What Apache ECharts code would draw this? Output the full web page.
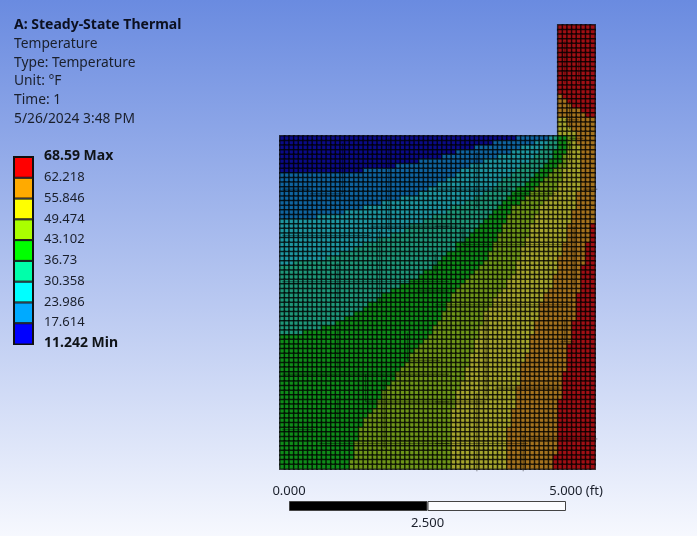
<!DOCTYPE html>
<html>
<head>
<meta charset="utf-8">
<style>html,body{margin:0;padding:0;background:#fff}#c{width:697px;height:536px;filter:blur(0.4px)}</style>
<script src="https://cdn.jsdelivr.net/npm/echarts@6/dist/echarts.min.js"></script>
</head>
<body>
<div id="c"></div>
<script>
const headerLines = ['Temperature', 'Type: Temperature', 'Unit: °F', 'Time: 1', '5/26/2024 3:48 PM'];
const headerTitle = 'A: Steady-State Thermal';
const tempLevels = [11.242, 17.614, 23.986, 30.358, 36.73, 43.102, 49.474, 55.846, 62.218, 68.59];
const levelLabels = ['11.242 Min', '17.614', '23.986', '30.358', '36.73', '43.102', '49.474', '55.846', '62.218', '68.59 Max'];
const bandColors = ['#0000ff', '#00aaff', '#00ffff', '#00ffaa', '#00ff00', '#aaff00', '#ffff00', '#ffaa00', '#ff0000'];
const meshCellColors = ['#0a0a88', '#0f64a0', '#1e96a0', '#1e9678', '#0f8c19', '#6e9619', '#a5a52d', '#a5731e', '#a00f14'];
const scaleTicks = [0, 2.5, 5];
const scaleLabels = ['0.000', '2.500', '5.000 (ft)'];
const upperFirstColumn = 60;
const upperRowCount = 24;
const columnCount = 68;
// For each mesh row, top to bottom: the column at which each of bands 1..8 begins.
const bandStartRows = [
[60,60,60,60,60,60,60,60],[60,60,60,60,60,60,60,60],[60,60,60,60,60,60,60,60],[60,60,60,60,60,60,60,60],
[60,60,60,60,60,60,60,60],[60,60,60,60,60,60,60,60],[60,60,60,60,60,60,60,60],[60,60,60,60,60,60,60,60],
[60,60,60,60,60,60,60,60],[60,60,60,60,60,60,60,60],[60,60,60,60,60,60,60,60],[60,60,60,60,60,60,60,60],
[60,60,60,60,60,60,60,60],[60,60,60,60,60,60,60,60],[60,60,60,60,60,60,60,60],[60,60,60,60,60,60,60,61],
[60,60,60,60,60,60,60,62],[60,60,60,60,60,60,60,63],[60,60,60,60,60,60,60,65],[60,60,60,60,60,60,60,66],
[60,60,60,60,60,60,62,68],[60,60,60,60,60,60,62,68],[60,60,60,60,60,60,63,68],[60,60,60,60,60,60,64,68],
[51,58,59,60,62,64,64,68],[46,55,58,60,62,63,64,68],[42,52,57,60,62,63,65,68],[38,50,56,59,62,62,65,68],
[35,47,55,59,61,62,65,68],[30,44,54,58,61,62,65,68],[25,41,52,57,60,62,65,68],[18,39,51,56,59,61,65,68],
[0,38,50,55,58,61,65,68],[0,36,48,54,57,61,65,68],[0,34,47,53,56,60,65,68],[0,32,46,51,55,60,65,68],
[0,30,44,50,54,59,64,68],[0,26,42,49,53,58,64,68],[0,22,40,48,52,57,64,68],[0,18,37,47,50,56,64,68],
[0,14,36,46,50,56,63,68],[0,8,33,45,49,55,63,68],[0,0,31,44,49,55,63,68],[0,0,28,43,48,54,62,67],
[0,0,27,42,48,54,62,67],[0,0,24,41,47,54,62,67],[0,0,21,40,47,53,62,67],[0,0,18,38,46,53,61,66],
[0,0,16,38,46,52,61,66],[0,0,13,36,45,52,61,66],[0,0,10,35,45,52,60,66],[0,0,3,34,44,51,60,66],
[0,0,0,33,43,51,60,65],[0,0,0,31,42,51,60,65],[0,0,0,30,41,50,59,65],[0,0,0,28,40,49,59,65],
[0,0,0,26,39,49,59,65],[0,0,0,24,38,48,58,65],[0,0,0,22,37,47,57,64],[0,0,0,21,37,46,57,64],
[0,0,0,19,36,46,56,64],[0,0,0,18,36,45,56,64],[0,0,0,16,35,44,56,64],[0,0,0,14,35,44,56,64],
[0,0,0,12,34,44,55,63],[0,0,0,9,33,43,55,63],[0,0,0,5,33,43,55,63],[0,0,0,0,32,43,54,63],
[0,0,0,0,31,42,54,63],[0,0,0,0,30,42,54,62],[0,0,0,0,29,42,54,62],[0,0,0,0,28,41,53,62],
[0,0,0,0,28,41,53,62],[0,0,0,0,27,41,52,62],[0,0,0,0,26,40,52,62],[0,0,0,0,25,40,52,61],
[0,0,0,0,25,40,52,61],[0,0,0,0,24,39,52,61],[0,0,0,0,23,39,51,61],[0,0,0,0,22,38,51,61],
[0,0,0,0,22,38,51,61],[0,0,0,0,21,38,51,60],[0,0,0,0,21,38,51,60],[0,0,0,0,20,37,50,60],
[0,0,0,0,19,37,50,60],[0,0,0,0,18,37,50,60],[0,0,0,0,18,37,50,60],[0,0,0,0,17,37,49,60],
[0,0,0,0,17,37,49,60],[0,0,0,0,17,37,49,60],[0,0,0,0,16,37,49,60],[0,0,0,0,16,37,49,60],
[0,0,0,0,16,37,49,60],[0,0,0,0,16,37,49,59],[0,0,0,0,15,37,49,59],[0,0,0,0,15,37,49,59]
];
// Darker mesh seams, as [startColumnEdge, startRowEdge, endColumnEdge, endRowEdge].
const meshSeams = [
[0,35,6,35],[6,36,13,36],[13,25,13,36],[23,24,23,44],[19,43,36,43],[0,45,19,45],[21,44,21,60],[33,49,33,53],
[0,55,36,55],[29,57,36,57],[12,51,12,59],[42,27,42,39],[33,35,49,35],[50,36,59,36],[39,47,62,47],[33,43,38,43],
[39,43,39,47],[63,43,63,56],[65,35,68,35],[0,75,36,75],[18,75,18,81],[18,81,36,81],[22,76,22,91],[12,80,12,85],
[0,87,7,87],[8,90,36,90],[27,66,27,72],[27,72,34,72],[12,65,12,74],[44,62,44,80],[33,81,44,81],[46,78,60,78],
[33,90,53,90],[53,89,68,89],[52,88,52,96],[42,79,42,96],[60,68,63,68],[61,63,61,68],[33,60,62,60],
[61,3,61,12],[64,7,64,12],[62,16,62,22],[61,20,64,20],[62,25,62,29],[62,24,65,24]
];

const FONT = '"Noto Sans", "Open Sans", sans-serif';
const TEXT = '#1a1f2b';

const cells = [];
bandStartRows.forEach((starts, r) => {
  const first = r < upperRowCount ? upperFirstColumn : 0;
  for (let c = first; c < columnCount; c++) {
    let band = 0;
    starts.forEach(s => { if (s <= c) band++; });
    cells.push([c, r, (tempLevels[band] + tempLevels[band + 1]) / 2]);
  }
});

const colIdx = Array.from({length: columnCount}, (_, i) => i);
const rowIdx = bandStartRows.map((_, i) => i);

const legendSeries = bandColors.map((col, i) => ({
  type: 'bar', stack: 'legend', xAxisIndex: 1, yAxisIndex: 1, barWidth: '100%',
  silent: true,
  data: [i === 0 ? tempLevels[1] : tempLevels[i + 1] - tempLevels[i]],
  itemStyle: {color: col, borderColor: '#101010', borderWidth: 1}
}));

const chart = echarts.init(document.getElementById('c'), null, {renderer: 'canvas'});
chart.setOption({
  animation: false,
  backgroundColor: {type: 'linear', x: 0, y: 0, x2: 0, y2: 1, colorStops: [
    {offset: 0, color: '#6a8be0'}, {offset: 1, color: '#f6f8fe'}]},
  grid: [
    {left: 280, top: 25, width: 315, height: 444},
    {left: 14, top: 157, width: 19, height: 187, show: true, backgroundColor: 'transparent', borderColor: '#101010', borderWidth: 2},
    {left: 289, top: 501, width: 277, height: 10, show: false}
  ],
  xAxis: [
    {type: 'category', gridIndex: 0, data: colIdx, show: false},
    {type: 'category', gridIndex: 1, data: ['band'], show: false},
    {type: 'value', gridIndex: 2, min: 0, max: 5, position: 'top',
     axisLine: {show: false}, axisTick: {show: false}, splitLine: {show: false},
     axisLabel: {customValues: [scaleTicks[0], scaleTicks[2]], margin: 3, color: TEXT, fontFamily: FONT, fontSize: 13,
       formatter: v => v === 0 ? scaleLabels[0] : '{e|' + scaleLabels[2] + '}',
       rich: {e: {padding: [0, 0, 0, 20], color: TEXT, fontFamily: FONT, fontSize: 13}}}},
    {type: 'value', gridIndex: 2, min: 0, max: 5, position: 'bottom',
     axisLine: {show: false}, axisTick: {show: false}, splitLine: {show: false},
     axisLabel: {customValues: [scaleTicks[1]], margin: 6, color: TEXT, fontFamily: FONT, fontSize: 13,
       formatter: () => scaleLabels[1]}}
  ],
  yAxis: [
    {type: 'category', gridIndex: 0, data: rowIdx, inverse: true, show: false},
    {type: 'value', gridIndex: 1, min: tempLevels[0], max: tempLevels[9], position: 'right',
     axisLine: {show: false}, axisTick: {show: false}, splitLine: {show: false},
     axisLabel: {customValues: tempLevels, margin: 11, color: TEXT, fontFamily: FONT, fontSize: 13, padding: [0, 0, 1, 0],
       formatter: v => {
         const i = tempLevels.indexOf(v);
         return (i === 0 || i === 9) ? '{b|' + levelLabels[i] + '}' : levelLabels[i];
       },
       rich: {b: {fontWeight: 'bold', fontFamily: FONT, fontSize: 14, color: '#101418'}}}},
    {type: 'category', gridIndex: 2, data: ['scale'], show: false}
  ],
  visualMap: {
    show: false, type: 'piecewise', seriesIndex: 0, dimension: 2,
    pieces: meshCellColors.map((color, i) => ({gte: tempLevels[i], lt: tempLevels[i + 1], color}))
  },
  series: [
    {type: 'heatmap', xAxisIndex: 0, yAxisIndex: 0, data: cells, silent: true, progressive: 0,
     itemStyle: {borderColor: 'rgba(0,0,0,0.72)', borderWidth: 1.5}},
    ...legendSeries,
    {type: 'bar', stack: 'scale', xAxisIndex: 2, yAxisIndex: 2, barWidth: '100%', silent: true,
     data: [scaleTicks[1]], itemStyle: {color: '#000', borderColor: '#444', borderWidth: 1}},
    {type: 'bar', stack: 'scale', xAxisIndex: 2, yAxisIndex: 2, barWidth: '100%', silent: true,
     data: [scaleTicks[2] - scaleTicks[1]], itemStyle: {color: '#fbfcff', borderColor: '#444', borderWidth: 1}},
    {type: 'custom', coordinateSystem: 'cartesian2d', xAxisIndex: 0, yAxisIndex: 0, silent: true,
     data: meshSeams, encode: {x: [0, 2], y: [1, 3]},
     renderItem: (params, api) => {
       const a = api.coord([api.value(0) - 0.5, api.value(1) - 0.5]);
       const b = api.coord([api.value(2) - 0.5, api.value(3) - 0.5]);
       return {type: 'line', shape: {x1: a[0], y1: a[1], x2: b[0], y2: b[1]},
         style: {stroke: 'rgba(0,0,0,0.42)', lineWidth: 1}};
     }}
  ],
  graphic: [
    {type: 'text', left: 14, top: 18, style: {text: headerTitle, fontFamily: FONT, fontWeight: 'bold', fontSize: 14, fill: '#0c1020'}},
    ...headerLines.map((t, i) => ({type: 'text', left: 14, top: 37 + i * 18.7, style: {text: t, fontFamily: FONT, fontSize: 13.8, fill: TEXT}}))
  ]
});
</script>
</body>
</html>
